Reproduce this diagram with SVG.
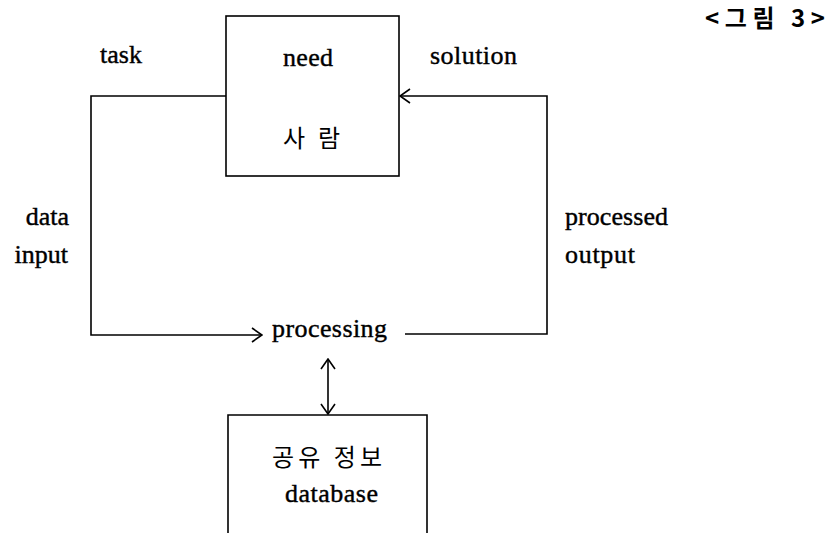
<svg xmlns="http://www.w3.org/2000/svg" width="827" height="533" viewBox="0 0 827 533">
<defs>
<marker id="chev" viewBox="0 0 12 16" refX="11" refY="8" markerWidth="12" markerHeight="16" markerUnits="userSpaceOnUse" orient="auto-start-reverse">
<path d="M1,1 L11,8 L1,15" fill="none" stroke="#000" stroke-width="1.6"/>
</marker>
<style>
.box{fill:none;stroke:#000;stroke-width:1.6}
.ln{fill:none;stroke:#000;stroke-width:1.6}
.t{font-family:"Liberation Serif","Times New Roman","DejaVu Serif",serif;font-size:26px;fill:#000;stroke:#000;stroke-width:0.4}
.k{font-family:"Noto Sans CJK KR",sans-serif;font-size:24px;fill:#000}
</style>
</defs>
<rect width="827" height="533" fill="#fff"/>
<text class="k" x="705" y="27" font-size="23" font-weight="bold" textLength="120">&lt;그림 3&gt;</text>
<g id="person">
<rect class="box" x="226" y="16" width="173" height="160"/>
<text class="t" x="283" y="66" textLength="50">need</text>
<text class="k" x="283" y="147" textLength="57">사 람</text>
</g>
<g id="processing">
<text class="t" x="272" y="337" textLength="115">processing</text>
</g>
<g id="database">
<path class="box" d="M228,533 V415 H427 V533"/>
<text class="k" x="272" y="466" textLength="110">공유 정보</text>
<text class="t" x="285" y="502" textLength="93">database</text>
</g>
<g id="connectors">
<path class="ln" d="M226,96 H91 V335 H262" marker-end="url(#chev)"/>
<path class="ln" d="M405,334 H547 V96 H400" marker-end="url(#chev)"/>
<path class="ln" d="M328,359 V414" marker-start="url(#chev)" marker-end="url(#chev)"/>
</g>
<g id="labels">
<text class="t" x="100" y="63" textLength="42">task</text>
<text class="t" x="430" y="64" textLength="87">solution</text>
<text class="t" x="69" y="225" text-anchor="end">data</text>
<text class="t" x="68" y="263" text-anchor="end">input</text>
<text class="t" x="565" y="225" textLength="103">processed</text>
<text class="t" x="565" y="263" textLength="70">output</text>
</g>
</svg>
